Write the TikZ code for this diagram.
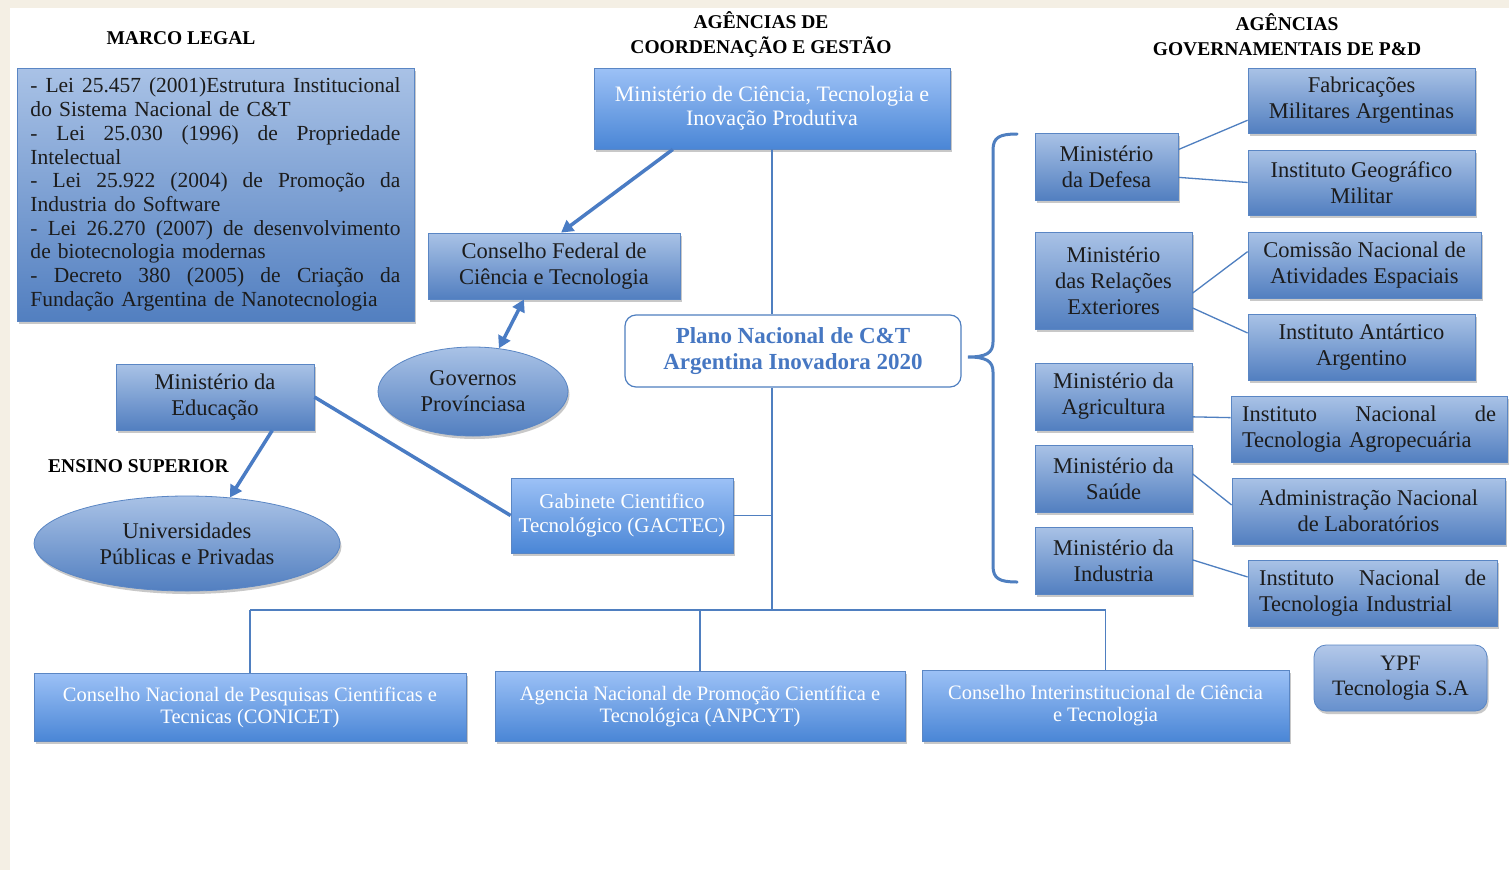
\documentclass[tikz,border=0pt]{standalone}
\usepackage{fontspec}
\setmainfont{Liberation Serif}
\usetikzlibrary{shapes.geometric,arrows.meta,shadows,calc}

\definecolor{beige}{HTML}{F4EFE4}
\definecolor{steelT}{HTML}{A9C2E6}
\definecolor{steelB}{HTML}{527FC0}
\definecolor{brightT}{HTML}{9CC1F6}
\definecolor{brightB}{HTML}{4A86D6}
\definecolor{ypfT}{HTML}{B3C8E9}
\definecolor{ypfB}{HTML}{6690CD}
\definecolor{edge}{HTML}{5A86C4}
\definecolor{conn}{HTML}{4F7FC0}
\definecolor{thickc}{HTML}{4A7CC4}
\definecolor{planotext}{HTML}{4677C2}
\definecolor{txt}{HTML}{1C1C1C}

\newcommand\myjline[2]{\leavevmode\hbox to #1{#2}}

\tikzset{
  x=1pt, y=-1pt,
  base/.style={draw=edge, line width=0.8pt, inner sep=0pt, align=center,
    drop shadow={shadow xshift=1.5pt, shadow yshift=-3pt, opacity=0.3, fill=black!70}},
  steelbox/.style={base, top color=steelT, bottom color=steelB, text=txt,
    font=\fontsize{22.5}{26}\selectfont},
  brightbox/.style={base, top color=brightT, bottom color=brightB, text=white,
    font=\fontsize{22}{24}\selectfont},
  bottombox/.style={brightbox, font=\fontsize{20.5}{22}\selectfont},
  steelell/.style={steelbox, shape=ellipse},
  ypfbox/.style={base, rounded corners=12pt, top color=ypfT, bottom color=ypfB, text=txt,
    font=\fontsize{22}{25}\selectfont},
  planobox/.style={draw=conn, line width=1.2pt, fill=white, rounded corners=11pt, inner sep=0pt,
    align=center, text=planotext, font=\fontsize{23}{26}\selectfont\bfseries},
  heading/.style={inner sep=0pt, align=center, text=black, font=\fontsize{19.5}{25}\selectfont\bfseries},
  thinconn/.style={draw=conn, line width=1.3pt},
  thickconn/.style={draw=thickc, line width=3.5pt},
  tip/.style={-{Triangle[length=12pt,width=13pt]}},
  dtip/.style={{Triangle[length=12pt,width=13pt]}-{Triangle[length=12pt,width=13pt]}},
}

\begin{document}
\begin{tikzpicture}
\useasboundingbox (0,0) rectangle (1509,870);
\fill[beige] (0,0) rectangle (1509,870);
\fill[white] (10,8) rectangle (1509,870);

% headings
\node[heading] (hmarco) at (181,38) {MARCO LEGAL};
\node[heading] (hcoord) at (761,34.5) {AGÊNCIAS DE\\COORDENAÇÃO E GESTÃO};
\node[heading] (hgov) at (1287,34.5) {AGÊNCIAS\\GOVERNAMENTAIS DE P\&D};
\node[heading, anchor=west] (hens) at (48,466) {ENSINO SUPERIOR};

% legal box
\node[steelbox, minimum width=397pt, minimum height=253pt, text width=370pt, align=left,
      font=\fontsize{21.5}{23.7}\selectfont] (legal) at (215.5,194.5) {%
\myjline{370pt}{-\hfill Lei\hfill 25.457\hfill (2001)Estrutura\hfill Institucional}\\
do Sistema Nacional de C\&T\\
\myjline{370pt}{-\hfill Lei\hfill 25.030\hfill (1996)\hfill de\hfill Propriedade}\\
Intelectual\\
\myjline{370pt}{-\hfill Lei\hfill 25.922\hfill (2004)\hfill de\hfill Promoção\hfill da}\\
Industria do Software\\
\myjline{370pt}{-\hfill Lei\hfill 26.270\hfill (2007)\hfill de\hfill desenvolvimento}\\
de biotecnologia modernas\\
\myjline{370pt}{-\hfill Decreto\hfill 380\hfill (2005)\hfill de\hfill Criação\hfill da}\\
Fundação Argentina de Nanotecnologia};

% central column
\node[brightbox, minimum width=356pt, minimum height=81pt] (mcti) at (772,108.5)
  {Ministério de Ciência, Tecnologia e\\Inovação Produtiva};
\node[steelbox, minimum width=252pt, minimum height=66pt] (cfct) at (554,266)
  {Conselho Federal de\\Ciência e Tecnologia};
\node[steelell, minimum width=190pt, minimum height=89pt] (gov) at (473,391.5)
  {Governos\\Provínciasa};
\node[steelbox, minimum width=198pt, minimum height=66pt] (edu) at (215,397)
  {Ministério da\\Educação};
\node[steelell, minimum width=306pt, minimum height=95pt] (univ) at (187,543.5)
  {Universidades\\Públicas e Privadas};
\node[brightbox, font=\fontsize{21}{24}\selectfont, minimum width=222pt, minimum height=75pt] (gactec) at (622,515.5)
  {Gabinete Cientifico\\Tecnológico (GACTEC)};
\node[planobox, minimum width=336pt, minimum height=72pt] (plano) at (793,351)
  {Plano Nacional de C\&T\\Argentina Inovadora 2020};

% bottom row
\node[bottombox, minimum width=432pt, minimum height=68pt] (conicet) at (250,707)
  {Conselho Nacional de Pesquisas Cientificas e\\Tecnicas (CONICET)};
\node[bottombox, minimum width=410pt, minimum height=70pt] (anpcyt) at (700,706)
  {Agencia Nacional de Promoção Científica e\\Tecnológica (ANPCYT)};
\node[bottombox, minimum width=367pt, minimum height=71pt] (cict) at (1105.5,705.5)
  {Conselho Interinstitucional de Ciência\\e Tecnologia};
\node[ypfbox, minimum width=173pt, minimum height=66pt] (ypf) at (1400.5,678)
  {YPF\\Tecnologia S.A};

% right column: ministries
\node[steelbox, minimum width=143pt, minimum height=67pt] (def) at (1106.5,166.5)
  {Ministério\\da Defesa};
\node[steelbox, minimum width=157pt, minimum height=97pt] (rel) at (1113.5,280.5)
  {Ministério\\das Relações\\Exteriores};
\node[steelbox, minimum width=157pt, minimum height=67pt] (agr) at (1113.5,396.5)
  {Ministério da\\Agricultura};
\node[steelbox, minimum width=157pt, minimum height=67pt] (sau) at (1113.5,478.5)
  {Ministério da\\Saúde};
\node[steelbox, minimum width=157pt, minimum height=67pt] (ind) at (1113.5,560.5)
  {Ministério da\\Industria};

% right column: agencies
\node[steelbox, minimum width=227pt, minimum height=65pt] (fab) at (1361.5,100.5)
  {Fabricações\\Militares Argentinas};
\node[steelbox, minimum width=227pt, minimum height=65pt] (igm) at (1361.5,182.5)
  {Instituto Geográfico\\Militar};
\node[steelbox, minimum width=233pt, minimum height=66pt] (cnae) at (1364.5,265)
  {Comissão Nacional de\\Atividades Espaciais};
\node[steelbox, minimum width=227pt, minimum height=66pt] (iaa) at (1361.5,347)
  {Instituto Antártico\\Argentino};
\node[steelbox, minimum width=276pt, minimum height=66pt, text width=254pt, align=left] (inta) at (1369,429)
  {\myjline{254pt}{Instituto\hfill Nacional\hfill de}\\Tecnologia Agropecuária};
\node[steelbox, minimum width=273pt, minimum height=66pt] (anl) at (1368.5,511)
  {Administração Nacional\\de Laboratórios};
\node[steelbox, minimum width=249pt, minimum height=66pt, text width=227pt, align=left] (inti) at (1372.5,593)
  {\myjline{227pt}{Instituto\hfill Nacional\hfill de}\\Tecnologia Industrial};

% thick arrows
\draw[thickconn, tip] ($(mcti.south west)!0.222!(mcti.south east)$) -- ($(cfct.north west)!0.528!(cfct.north east)$);
\draw[thickconn, dtip] (gov.59) -- ($(cfct.south west)!0.381!(cfct.south east)$);
\draw[thickconn, tip] ($(edu.south west)!0.788!(edu.south east)$) -- (univ.47);
\draw[thickconn] (edu.east) -- (gactec.west);

% central thin tree
\coordinate (bus) at (772,610);
\draw[thinconn] (mcti.south -| bus) -- (plano.north -| bus);
\draw[thinconn] (plano.south -| bus) -- (bus);
\draw[thinconn] (gactec.east) -- (gactec.east -| bus);
\draw[thinconn] (conicet.north |- bus) -- (cict.north |- bus);
\draw[thinconn] (conicet.north |- bus) -- (conicet.north);
\draw[thinconn] (anpcyt.north |- bus) -- (anpcyt.north);
\draw[thinconn] (cict.north |- bus) -- (cict.north);

% right thin connectors
\draw[thinconn] ($(def.north east)!0.25!(def.south east)$) -- ($(fab.north west)!0.8!(fab.south west)$);
\draw[thinconn] ($(def.north east)!0.66!(def.south east)$) -- (igm.west);
\draw[thinconn] ($(rel.north east)!0.63!(rel.south east)$) -- ($(cnae.north west)!0.3!(cnae.south west)$);
\draw[thinconn] ($(rel.north east)!0.78!(rel.south east)$) -- ($(iaa.north west)!0.29!(iaa.south west)$);
\draw[thinconn] ($(agr.north east)!0.8!(agr.south east)$) -- ($(inta.north west)!0.33!(inta.south west)$);
\draw[thinconn] ($(sau.north east)!0.43!(sau.south east)$) -- ($(anl.north west)!0.41!(anl.south west)$);
\draw[thinconn] ($(ind.north east)!0.49!(ind.south east)$) -- ($(inti.north west)!0.26!(inti.south west)$);

% brace
\draw[draw=conn, line width=3pt, line cap=round]
  (1017,134) .. controls (1000,134) and (993,137) .. (993,150) -- (993,342)
  .. controls (993,353) and (986,357) .. (968,357)
  .. controls (986,357) and (993,361) .. (993,372) -- (993,566)
  .. controls (993,579) and (1000,582) .. (1017,582);
\end{tikzpicture}
\end{document}
